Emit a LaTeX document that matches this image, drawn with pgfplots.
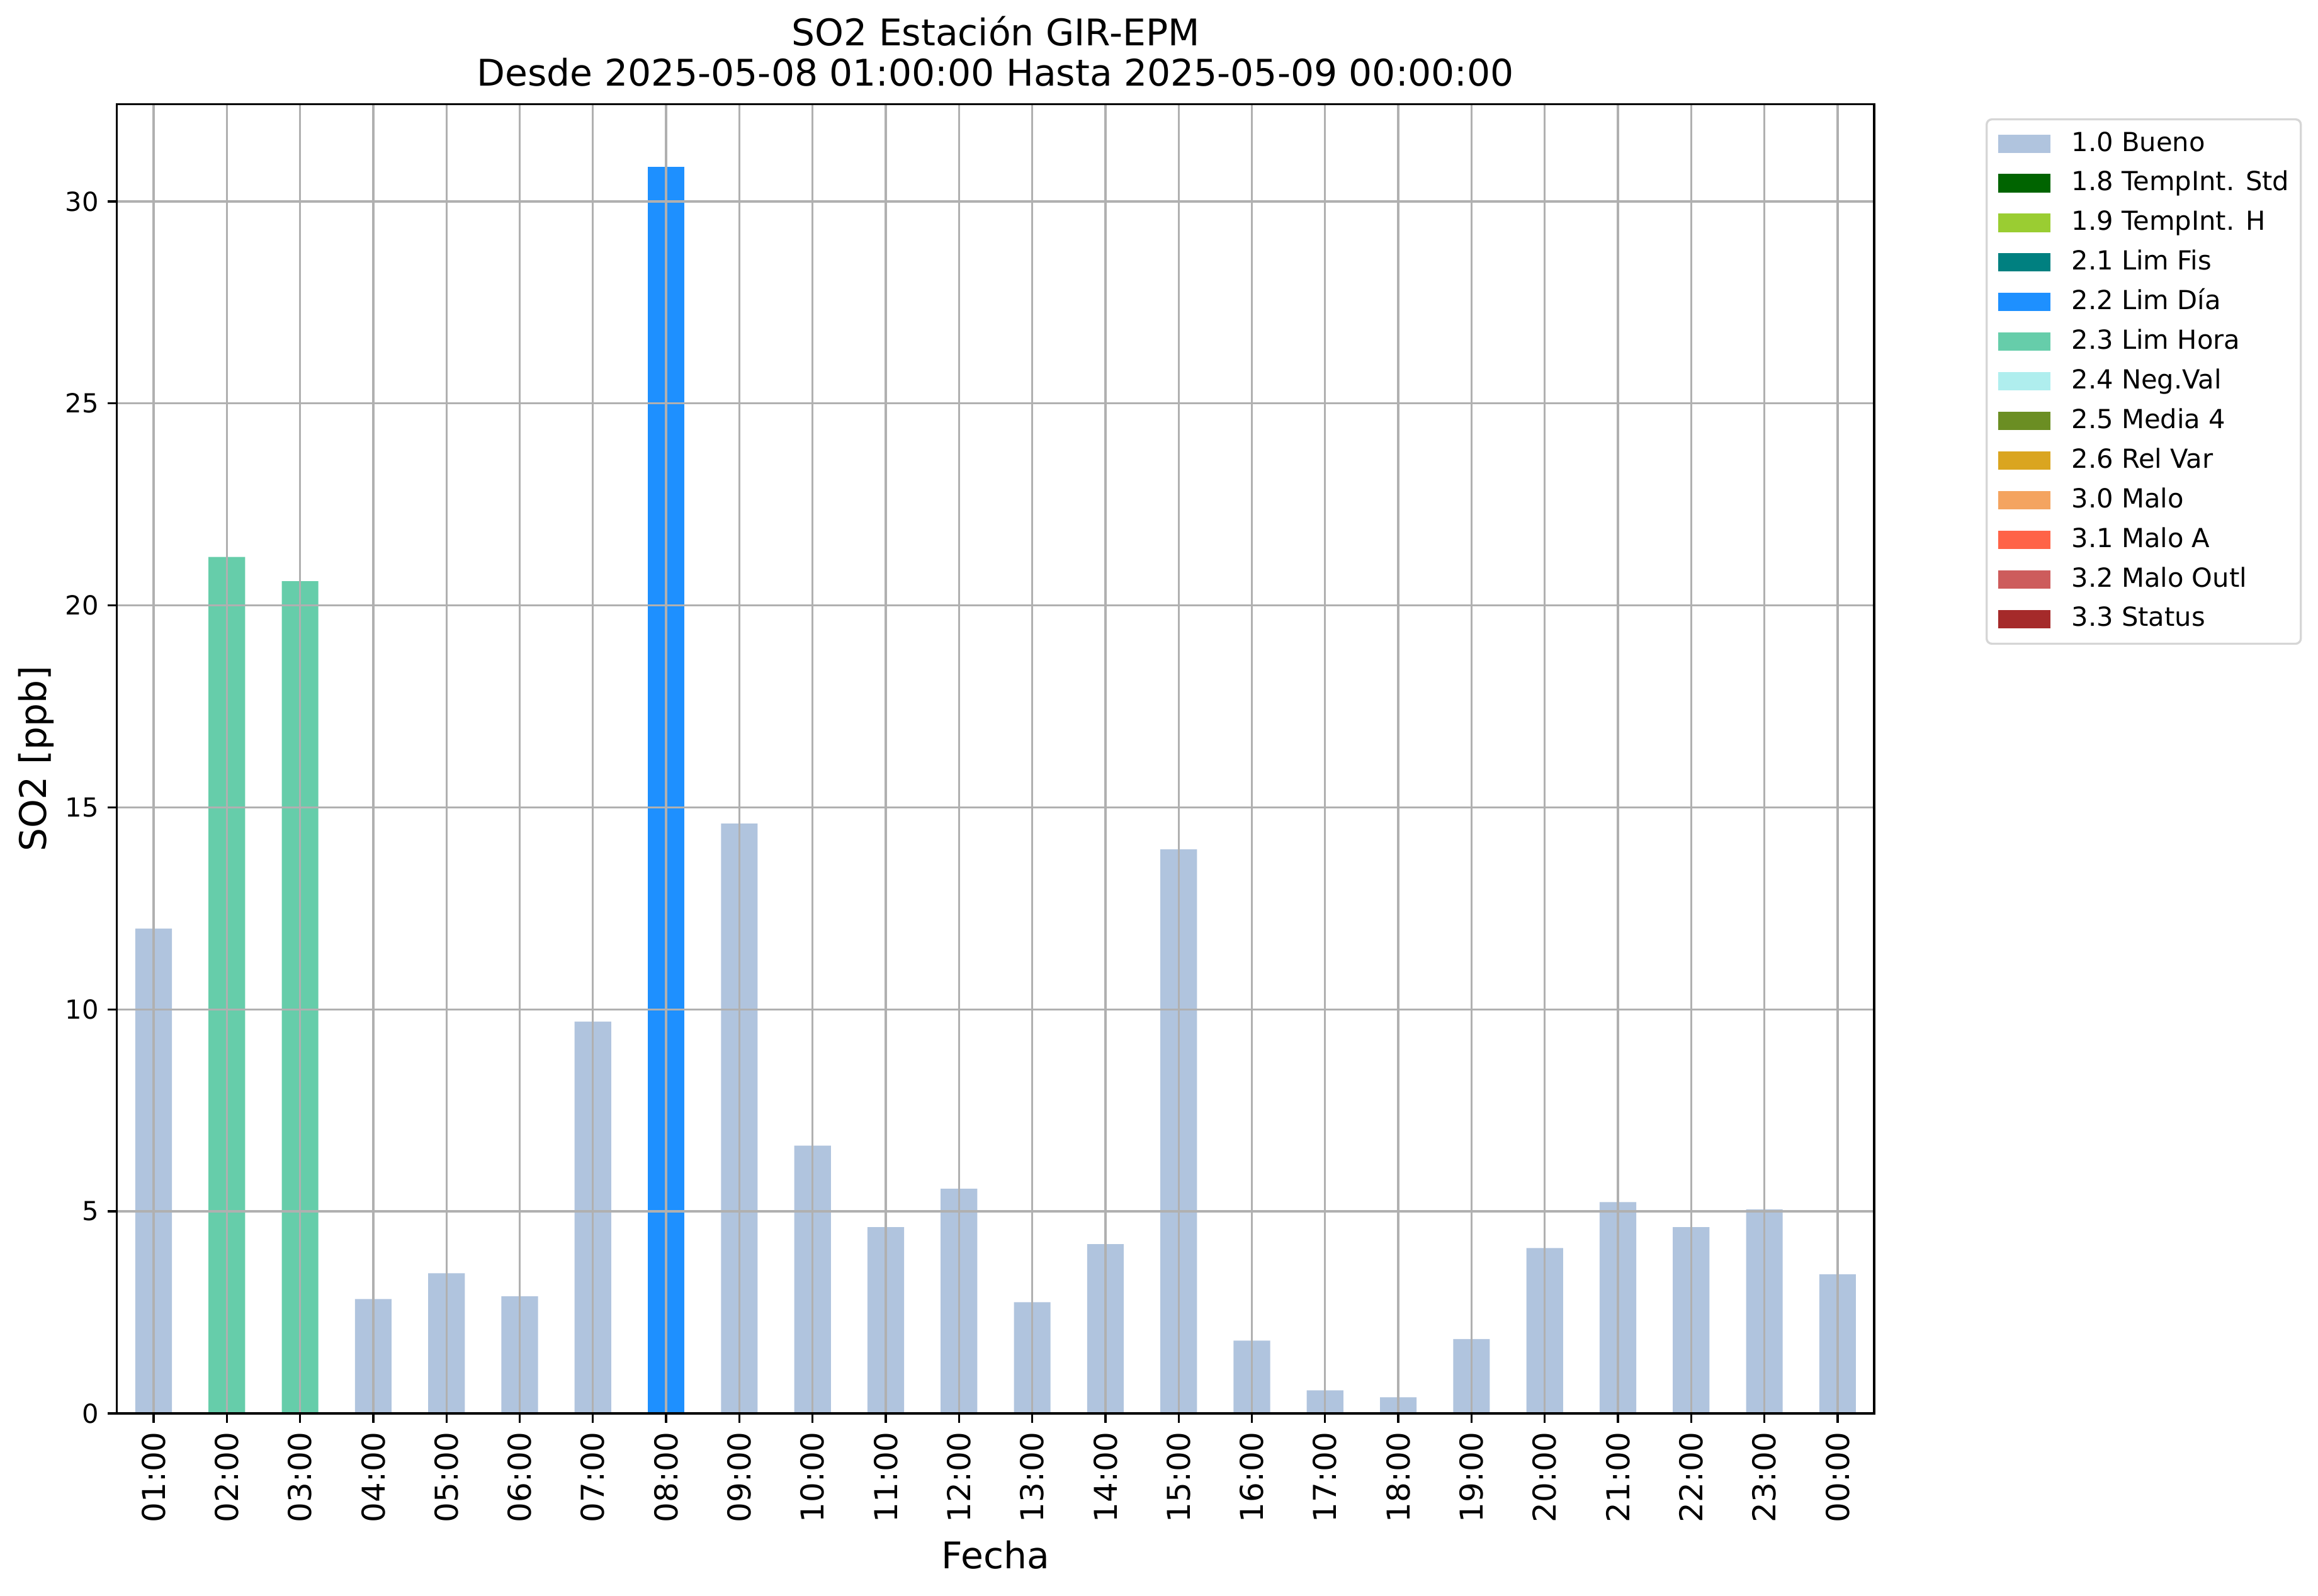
\documentclass[border=0pt]{standalone}
\usepackage{fontspec}
\setmainfont{DejaVu Sans}
\usepackage{pgfplots}
\pgfplotsset{compat=1.18}

% flag colours (matplotlib names)
\definecolor{cBueno}{HTML}{B0C4DE}
\definecolor{cStd}{HTML}{006400}
\definecolor{cH}{HTML}{9ACD32}
\definecolor{cFis}{HTML}{008080}
\definecolor{cDia}{HTML}{1E90FF}
\definecolor{cHora}{HTML}{66CDAA}
\definecolor{cNeg}{HTML}{AFEEEE}
\definecolor{cMedia}{HTML}{6B8E23}
\definecolor{cRel}{HTML}{DAA520}
\definecolor{cMalo}{HTML}{F4A460}
\definecolor{cMaloA}{HTML}{FF6347}
\definecolor{cOutl}{HTML}{CD5C5C}
\definecolor{cStatus}{HTML}{A52A2A}
\definecolor{gridgray}{HTML}{B0B0B0}
\definecolor{legedge}{HTML}{D6D6D6}

\pgfplotsset{
  flagbar/.style={ybar, bar width=0.5, bar shift=0pt, draw=none, fill=#1,
    legend image code/.code={\fill[##1, sharp corners] (0pt,-3.4pt) rectangle (20pt,3.6pt);}},
  flagimg/.style={draw=none, fill=#1,
    legend image code/.code={\fill[##1, sharp corners] (0pt,-3.4pt) rectangle (20pt,3.6pt);}},
}

\begin{document}
\begin{tikzpicture}
\fill[white] (-44.6pt,-69.4pt) rectangle (839.1pt,538.8pt);
\begin{axis}[
  at={(0pt,0pt)}, anchor=south west,
  scale only axis, width=669.9pt, height=499pt,
  xmin=-0.5, xmax=23.5, ymin=0, ymax=32.4,
  enlargelimits=false,
  xtick={0,...,23},
  xticklabels={01:00,02:00,03:00,04:00,05:00,06:00,07:00,08:00,09:00,10:00,11:00,12:00,
               13:00,14:00,15:00,16:00,17:00,18:00,19:00,20:00,21:00,22:00,23:00,00:00},
  ytick={0,5,...,30},
  /pgf/number format/assume math mode=true,
  xtick pos=left, ytick pos=left,
  tick align=outside, major tick length=3.5pt,
  tick style={black, line width=0.8pt},
  axis line style={line width=0.8pt},
  grid=major,
  major grid style={gridgray, line width=0.8pt},
  axis on top,
  xticklabel style={rotate=90, anchor=east, font=\fontsize{12}{14}\selectfont},
  yticklabel style={font=\fontsize{10}{12}\selectfont},
  title={SO2 Estación GIR-EPM\\Desde 2025-05-08 01:00:00 Hasta 2025-05-09 00:00:00},
  title style={at={(axis description cs:0.5,1)}, anchor=south, align=center,
    inner sep=0pt, yshift=0.6pt, font=\fontsize{14}{15.5}\selectfont},
  xlabel={Fecha},
  xlabel style={at={(axis description cs:0.5,0)}, anchor=center, yshift=-54pt,
    font=\fontsize{14}{16}\selectfont},
  ylabel={SO2 [ppb]},
  ylabel style={at={(axis description cs:-0.046,0.5)}, anchor=center,
    font=\fontsize{14}{16}\selectfont},
  legend cell align=left,
  legend style={at={(axis description cs:1.0634,1)}, anchor=north west, yshift=-5.3pt,
    draw=legedge, line width=0.8pt, rounded corners=2pt, fill=white,
    font=\fontsize{10}{12}\selectfont,
    inner xsep=4.4pt, inner ysep=1.8pt, column sep=8pt,
    nodes={inner xsep=0pt, inner ysep=2.8pt, text height=7.5pt, text depth=2pt}},
]
% 1.0 Bueno
\addplot[flagbar=cBueno] coordinates {
  (0,12.0) (3,2.83) (4,3.47) (5,2.90) (6,9.70) (8,14.6) (9,6.63) (10,4.61)
  (11,5.56) (12,2.75) (13,4.19) (14,13.96) (15,1.80) (16,0.57) (17,0.40)
  (18,1.84) (19,4.09) (20,5.23) (21,4.61) (22,5.05) (23,3.44)};
\addlegendentry{1.0 Bueno}
\addlegendimage{flagimg=cStd}
\addlegendentry{1.8 TempInt. Std}
\addlegendimage{flagimg=cH}
\addlegendentry{1.9 TempInt. H}
\addlegendimage{flagimg=cFis}
\addlegendentry{2.1 Lim Fis}
% 2.2 Lim Dia
\addplot[flagbar=cDia] coordinates {(7,30.85)};
\addlegendentry{2.2 Lim Día}
% 2.3 Lim Hora
\addplot[flagbar=cHora] coordinates {(1,21.2) (2,20.6)};
\addlegendentry{2.3 Lim Hora}
\addlegendimage{flagimg=cNeg}
\addlegendentry{2.4 Neg.Val}
\addlegendimage{flagimg=cMedia}
\addlegendentry{2.5 Media 4}
\addlegendimage{flagimg=cRel}
\addlegendentry{2.6 Rel Var}
\addlegendimage{flagimg=cMalo}
\addlegendentry{3.0 Malo}
\addlegendimage{flagimg=cMaloA}
\addlegendentry{3.1 Malo A}
\addlegendimage{flagimg=cOutl}
\addlegendentry{3.2 Malo Outl}
\addlegendimage{flagimg=cStatus}
\addlegendentry{3.3 Status}
\end{axis}
\end{tikzpicture}
\end{document}
